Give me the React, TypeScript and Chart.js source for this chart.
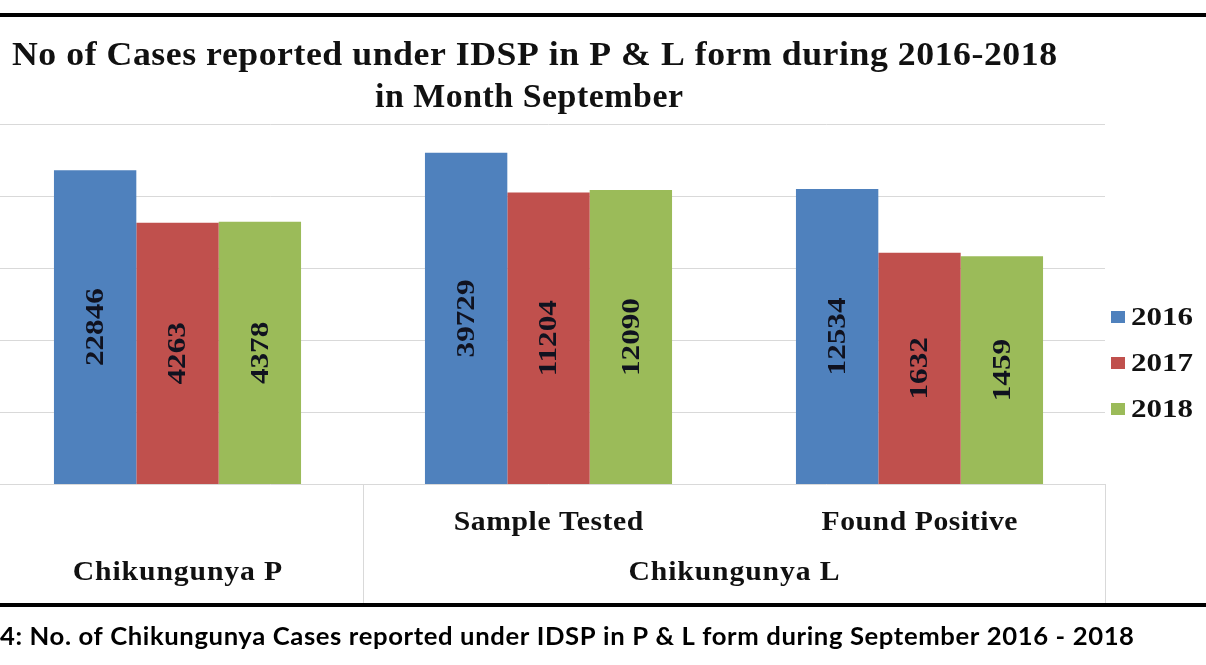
import React, { useEffect, useRef } from "react";
import { Chart, registerables } from "chart.js";

Chart.register(...registerables);

const chartTitleLines = [
  "No of Cases reported under IDSP in P & L form during 2016-2018",
  "in Month September",
];
const subCategories = ["", "Sample Tested", "Found Positive"];
const groupLabels = ["Chikungunya P", "Chikungunya L"];
const seriesNames = ["2016", "2017", "2018"];
const values2016 = [22846, 39729, 12534];
const values2017 = [4263, 11204, 1632];
const values2018 = [4378, 12090, 1459];
const yTickValues = [1, 10, 100, 1000, 10000, 100000];
const captionText =
  "4: No. of Chikungunya Cases reported under IDSP in P & L form during September 2016 - 2018";

const COLORS = ["#4F81BD", "#C0504D", "#9BBB59"];
const SERIF = '"Liberation Serif", "Times New Roman", serif';
const GRID = "#d9d9d9";

// Draws text stretched horizontally (Word-like wide rendering).
function drawWide(
  ctx: CanvasRenderingContext2D,
  text: string,
  x: number,
  y: number,
  font: string,
  opts: { sx?: number; width?: number; align?: "center" | "left"; ls?: number }
) {
  ctx.save();
  ctx.font = font;
  (ctx as any).letterSpacing = (opts.ls ?? 0) + "px";
  const w = ctx.measureText(text).width - (opts.ls ?? 0);
  let sx = opts.sx ?? 1;
  if (opts.width !== undefined) sx = opts.width / w;
  const total = w * sx;
  const start = opts.align === "left" ? x : x - total / 2;
  ctx.translate(start, y);
  ctx.scale(sx, 1);
  ctx.textAlign = "left";
  ctx.fillText(text, 0, 0);
  ctx.restore();
}

const decorPlugin = {
  id: "decor",
  afterDatasetsDraw(chart: any) {
    const ctx: CanvasRenderingContext2D = chart.ctx;
    chart.data.datasets.forEach((ds: any, di: number) => {
      const meta = chart.getDatasetMeta(di);
      meta.data.forEach((bar: any, i: number) => {
        const v = ds.data[i];
        const cy = (bar.y + bar.base) / 2;
        ctx.save();
        ctx.translate(bar.x, cy);
        ctx.rotate(-Math.PI / 2);
        ctx.fillStyle = "#10121f";
        ctx.textBaseline = "middle";
        drawWide(ctx, String(v), 0, 1, "bold 26px " + SERIF, { sx: 1.2 });
        ctx.restore();
      });
    });
  },
  afterDraw(chart: any) {
    const ctx: CanvasRenderingContext2D = chart.ctx;
    const area = chart.chartArea;
    const xs = chart.scales.x;
    const W = chart.width;
    const off = 8; // canvas sits 8px left of the page edge

    // page rules
    ctx.save();
    ctx.fillStyle = "#000";
    ctx.fillRect(0, 13, W, 4);
    ctx.fillRect(0, 603, W, 4);
    ctx.restore();

    // title
    ctx.save();
    ctx.fillStyle = "#111";
    ctx.textBaseline = "alphabetic";
    drawWide(ctx, chartTitleLines[0], 534.5 + off, 65, "bold 33px " + SERIF, { width: 1045, ls: 0.5 });
    drawWide(ctx, chartTitleLines[1], 529 + off, 107, "bold 33px " + SERIF, { width: 308, ls: 0.5 });
    ctx.restore();

    // category axis dividers
    const p0 = xs.getPixelForValue(0);
    const p1 = xs.getPixelForValue(1);
    const p2 = xs.getPixelForValue(2);
    ctx.save();
    ctx.strokeStyle = GRID;
    ctx.lineWidth = 1;
    [(p0 + p1) / 2, area.right].forEach((x) => {
      ctx.beginPath();
      ctx.moveTo(Math.round(x) + 0.5, area.bottom);
      ctx.lineTo(Math.round(x) + 0.5, 603);
      ctx.stroke();
    });
    ctx.restore();

    // category labels
    ctx.save();
    ctx.fillStyle = "#111";
    const f = "bold 27px " + SERIF;
    drawWide(ctx, subCategories[1], p1, 530, f, { sx: 1.1, ls: 0.5 });
    drawWide(ctx, subCategories[2], p2, 530, f, { sx: 1.1, ls: 0.5 });
    drawWide(ctx, groupLabels[0], p0, 580, f, { sx: 1.1, ls: 0.8 });
    drawWide(ctx, groupLabels[1], (p1 + p2) / 2, 580, f, { sx: 1.1, ls: 0.8 });
    ctx.restore();

    // legend
    ctx.save();
    chart.data.datasets.forEach((ds: any, i: number) => {
      const base = 325 + i * 46;
      ctx.fillStyle = ds.backgroundColor;
      ctx.fillRect(1111 + off, base - 14, 14, 12);
      ctx.fillStyle = "#111";
      drawWide(ctx, ds.label, 1131 + off, base, "bold 26px " + SERIF, { width: 62, align: "left" });
    });
    ctx.restore();

    // caption
    ctx.save();
    ctx.fillStyle = "#000";
    drawWide(ctx, captionText, 0 + off, 645, 'bold 25px Lato, "Noto Sans", sans-serif', {
      width: 1134,
      align: "left",
      ls: 0.6,
    });
    ctx.restore();
  },
};

export default function App() {
  const ref = useRef<HTMLCanvasElement | null>(null);
  useEffect(() => {
    if (!ref.current) return;
    const chart = new Chart(ref.current, {
      type: "bar",
      data: {
        labels: subCategories,
        datasets: [values2016, values2017, values2018].map((d, i) => ({
          label: seriesNames[i],
          data: d,
          backgroundColor: COLORS[i],
          borderWidth: 0,
          categoryPercentage: 0.666,
          barPercentage: 1,
        })),
      },
      options: {
        responsive: false,
        maintainAspectRatio: false,
        animation: false,
        devicePixelRatio: 1,
        layout: { padding: { left: 0, right: 101, top: 124, bottom: 181 } },
        plugins: {
          legend: { display: false },
          title: { display: false },
          tooltip: { enabled: false },
        },
        scales: {
          x: { display: false },
          y: {
            type: "logarithmic",
            min: 1,
            max: 100000,
            afterBuildTicks: (scale: any) => {
              scale.ticks = yTickValues.map((v) => ({ value: v }));
            },
            ticks: { display: false },
            border: { display: false },
            grid: { color: GRID, lineWidth: 1, drawTicks: false },
          },
        },
      },
      plugins: [decorPlugin],
    });
    return () => chart.destroy();
  }, []);

  return (
    <div
      style={{
        position: "absolute",
        left: -8,
        top: 0,
        width: 1214,
        height: 665,
        background: "#fff",
      }}
    >
      <canvas ref={ref} width={1214} height={665} style={{ display: "block" }} />
    </div>
  );
}
